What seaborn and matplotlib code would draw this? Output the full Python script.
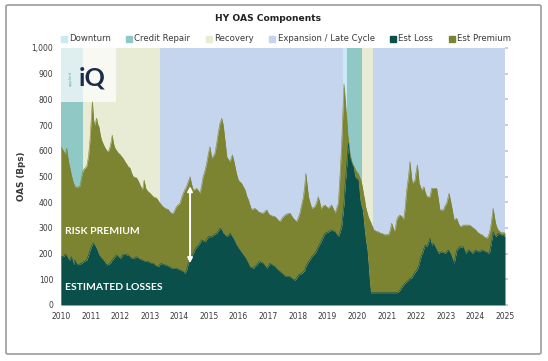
import matplotlib
matplotlib.use("Agg")
import numpy as np
import pandas as pd
import matplotlib.pyplot as plt
import seaborn as sns
from matplotlib.patches import FancyBboxPatch, Rectangle
from matplotlib.lines import Line2D

# ---------------- data ----------------
years = [
    2010.00, 2010.08, 2010.15, 2010.19, 2010.25, 2010.30, 2010.36, 2010.42, 2010.47, 2010.55,
    2010.64, 2010.70, 2010.75, 2010.87, 2010.93, 2010.98, 2011.03, 2011.06, 2011.10, 2011.14,
    2011.20, 2011.25, 2011.28, 2011.33, 2011.37, 2011.43, 2011.49, 2011.55, 2011.60, 2011.66,
    2011.70, 2011.73, 2011.77, 2011.82, 2011.88, 2011.94, 2012.00, 2012.05, 2012.10, 2012.16,
    2012.22, 2012.27, 2012.33, 2012.38, 2012.44, 2012.50, 2012.56, 2012.62, 2012.67, 2012.75,
    2012.81, 2012.86, 2012.90, 2012.95, 2013.00, 2013.06, 2013.12, 2013.18, 2013.23, 2013.29,
    2013.34, 2013.40, 2013.45, 2013.51, 2013.57, 2013.62, 2013.68, 2013.74, 2013.79, 2013.85,
    2013.90, 2014.02, 2014.07, 2014.13, 2014.18, 2014.24, 2014.30, 2014.36, 2014.41, 2014.47,
    2014.53, 2014.58, 2014.64, 2014.70, 2014.75, 2014.80, 2014.87, 2014.92, 2014.98, 2015.03,
    2015.09, 2015.15, 2015.20, 2015.26, 2015.31, 2015.37, 2015.43, 2015.48, 2015.54, 2015.60,
    2015.66, 2015.71, 2015.76, 2015.79, 2015.84, 2015.88, 2015.93, 2015.99, 2016.04, 2016.10,
    2016.16, 2016.22, 2016.27, 2016.33, 2016.38, 2016.44, 2016.50, 2016.55, 2016.61, 2016.67,
    2016.72, 2016.78, 2016.83, 2016.90, 2016.95, 2017.00, 2017.06, 2017.15, 2017.23, 2017.30,
    2017.40, 2017.48, 2017.57, 2017.65, 2017.74, 2017.80, 2017.85, 2017.91, 2017.96, 2018.02,
    2018.07, 2018.13, 2018.19, 2018.24, 2018.27, 2018.32, 2018.36, 2018.42, 2018.47, 2018.53,
    2018.58, 2018.64, 2018.69, 2018.75, 2018.78, 2018.81, 2018.86, 2018.92, 2018.97, 2019.03,
    2019.08, 2019.14, 2019.20, 2019.26, 2019.31, 2019.37, 2019.43, 2019.48, 2019.52, 2019.56,
    2019.60, 2019.65, 2019.69, 2019.71, 2019.76, 2019.82, 2019.87, 2019.93, 2019.98, 2020.04,
    2020.10, 2020.13, 2020.18, 2020.22, 2020.25, 2020.29, 2020.34, 2020.38, 2020.41, 2020.45,
    2020.47, 2020.50, 2020.57, 2020.61, 2020.67, 2020.72, 2020.78, 2020.83, 2020.89, 2020.95,
    2021.00, 2021.06, 2021.12, 2021.17, 2021.22, 2021.26, 2021.30, 2021.34, 2021.39, 2021.45,
    2021.51, 2021.57, 2021.62, 2021.68, 2021.74, 2021.79, 2021.83, 2021.87, 2021.92, 2021.96,
    2022.00, 2022.04, 2022.10, 2022.13, 2022.18, 2022.22, 2022.26, 2022.30, 2022.36, 2022.42,
    2022.47, 2022.52, 2022.58, 2022.64, 2022.69, 2022.75, 2022.80, 2022.86, 2022.92, 2022.97,
    2023.03, 2023.09, 2023.11, 2023.16, 2023.20, 2023.24, 2023.28, 2023.33, 2023.37, 2023.42,
    2023.48, 2023.55, 2023.59, 2023.67, 2023.73, 2023.79, 2023.84, 2023.90, 2023.95, 2024.01,
    2024.06, 2024.12, 2024.18, 2024.24, 2024.29, 2024.35, 2024.40, 2024.47, 2024.51, 2024.55,
    2024.60, 2024.64, 2024.68, 2024.73, 2024.77, 2024.83, 2024.89, 2024.95, 2025.00,
]

hy_oas = [
    615, 600, 585, 610, 560, 533, 500, 475, 460, 458,
    462, 500, 525, 540, 580, 642, 740, 795, 720, 700,
    727, 700, 694, 660, 642, 625, 611, 600, 597, 616,
    640, 661, 630, 611, 600, 591, 585, 577, 570, 558,
    548, 538, 533, 515, 499, 497, 494, 480, 467, 447,
    486, 455, 447, 440, 436, 428, 421, 418, 416, 405,
    397, 388, 382, 377, 374, 372, 362, 357, 357, 370,
    383, 396, 415, 435, 448, 460, 480, 499, 470, 447,
    450, 454, 445, 435, 465, 499, 525, 551, 590, 616,
    571, 580, 590, 630, 668, 707, 726, 700, 640, 577,
    565, 558, 575, 584, 560, 538, 510, 486, 480, 473,
    460, 447, 425, 409, 390, 370, 374, 376, 370, 363,
    360, 358, 357, 365, 370, 358, 350, 346, 344, 335,
    324, 340, 350, 355, 357, 345, 337, 330, 324, 340,
    357, 390, 421, 470, 512, 460, 421, 395, 376, 380,
    383, 400, 421, 395, 370, 380, 385, 389, 382, 376,
    382, 389, 375, 357, 375, 396, 512, 620, 740, 860,
    800, 730, 660, 645, 590, 560, 545, 532, 520, 512,
    495, 486, 460, 430, 415, 383, 360, 344, 335, 325,
    320, 311, 292, 290, 285, 285, 280, 279, 276, 272,
    275, 272, 290, 318, 300, 285, 300, 330, 344, 350,
    345, 331, 370, 447, 500, 558, 510, 473, 480, 486,
    520, 545, 473, 465, 447, 452, 460, 440, 421, 421,
    421, 454, 454, 454, 454, 410, 370, 370, 370, 385,
    396, 425, 435, 405, 383, 355, 331, 335, 337, 320,
    305, 308, 311, 311, 311, 311, 308, 302, 298, 292,
    285, 279, 275, 272, 266, 262, 260, 279, 300, 331,
    376, 345, 318, 300, 292, 285, 280, 282, 280,
]

est_loss = [
    190, 188, 198, 192, 178, 175, 188, 156, 175, 156,
    160, 162, 168, 175, 195, 214, 228, 237, 240, 232,
    220, 205, 195, 188, 182, 175, 165, 156, 158, 162,
    170, 175, 181, 188, 195, 188, 181, 190, 198, 198,
    195, 195, 188, 183, 181, 185, 188, 182, 178, 175,
    172, 170, 169, 169, 166, 162, 162, 155, 152, 149,
    158, 162, 158, 156, 155, 150, 148, 143, 143, 143,
    143, 136, 134, 130, 123, 135, 162, 175, 190, 201,
    218, 225, 233, 243, 253, 250, 246, 255, 266, 266,
    266, 272, 276, 279, 288, 298, 292, 279, 272, 266,
    272, 279, 270, 265, 255, 245, 233, 222, 214, 205,
    195, 185, 175, 162, 149, 146, 143, 150, 156, 165,
    169, 165, 162, 152, 143, 152, 162, 155, 149, 140,
    130, 122, 112, 112, 110, 104, 100, 97, 105, 117,
    120, 123, 130, 136, 150, 160, 169, 178, 188, 195,
    201, 214, 227, 240, 245, 253, 266, 279, 282, 285,
    288, 292, 288, 285, 275, 266, 285, 305, 350, 396,
    470, 538, 600, 630, 575, 551, 538, 499, 492, 486,
    409, 390, 370, 330, 292, 253, 215, 160, 110, 60,
    48, 48, 48, 48, 48, 48, 48, 48, 48, 48,
    48, 48, 48, 48, 48, 48, 48, 48, 50, 58,
    68, 78, 85, 91, 97, 104, 105, 110, 120, 128,
    132, 140, 160, 175, 195, 205, 220, 233, 227, 245,
    259, 233, 240, 227, 215, 201, 205, 207, 204, 201,
    208, 214, 210, 200, 188, 175, 162, 190, 214, 220,
    227, 225, 227, 201, 210, 214, 207, 201, 208, 214,
    210, 207, 211, 214, 210, 207, 204, 201, 225, 253,
    285, 275, 266, 272, 279, 275, 272, 270, 266,
]

regime_labels = ["Downturn", "Credit Repair", "Recovery", "Expansion / Late Cycle"]
span_regime = ["Credit Repair", "Recovery", "Expansion / Late Cycle", "Downturn",
               "Credit Repair", "Recovery", "Expansion / Late Cycle"]
span_start = [2010.00, 2010.74, 2013.36, 2019.54, 2019.66, 2020.17, 2020.54]
span_end = [2010.74, 2013.36, 2019.54, 2019.66, 2020.17, 2020.54, 2025.00]

year_ticks = list(range(2010, 2026))
oas_ticks = list(range(0, 1001, 100))

# ---------------- styling ----------------
regime_colors = {
    "Downturn": "#c9e9f4",
    "Credit Repair": "#90c8c6",
    "Recovery": "#e9ecd5",
    "Expansion / Late Cycle": "#c5d5ed",
}
loss_color = "#0b4f4a"
prem_color = "#7c8432"
text_color = "#3a3a3a"

sns.set_theme(style="white")
plt.rcParams["font.family"] = ["DejaVu Sans"]

df = pd.DataFrame({"year": years, "oas": hy_oas, "loss": est_loss})
df["premium"] = df["oas"] - df["loss"]

fig = plt.figure(figsize=(5.48, 3.61), dpi=100)
fig.patch.set_facecolor("white")
ax = fig.add_axes([61 / 548, 56 / 361, 444 / 548, 257 / 361])

for name, s, e in zip(span_regime, span_start, span_end):
    ax.axvspan(s, e, color=regime_colors[name], lw=0, zorder=0)

ax.stackplot(df["year"], df["loss"], df["premium"],
             colors=[loss_color, prem_color], lw=0, zorder=2)
sns.lineplot(data=df, x="year", y="oas", color=prem_color, lw=0.4, ax=ax, zorder=3)
sns.lineplot(data=df, x="year", y="loss", color=loss_color, lw=0.4, ax=ax, zorder=3)

ax.set_xlim(2010, 2025)
ax.set_ylim(0, 1000)
ax.set_xticks(year_ticks)
ax.set_xticklabels([str(y) for y in year_ticks])
ax.set_yticks(oas_ticks)
ax.set_yticklabels([f"{v:,}" for v in oas_ticks])
ax.tick_params(axis="x", labelsize=5.5, colors=text_color, length=0, pad=5)
ax.tick_params(axis="y", labelsize=5.5, colors=text_color, length=0, pad=3)
ax.tick_params(axis="y", right=True, length=2.5, color="#c8c8c8", labelright=False)
for sp in ax.spines.values():
    sp.set_visible(False)
ax.set_xlabel("")
ax.set_ylabel("OAS (Bps)", fontsize=6.3, fontweight="bold", color=text_color, labelpad=4)

# annotations
ax.text(2010.12, 285, "RISK PREMIUM", color="white", fontsize=7.5, fontweight="bold",
        family=["Lato", "DejaVu Sans"], va="center", ha="left", zorder=5)
ax.text(2010.12, 70, "ESTIMATED LOSSES", color="white", fontsize=7.5, fontweight="bold",
        family=["Lato", "DejaVu Sans"], va="center", ha="left", zorder=5)
ax.annotate("", xy=(2014.36, 462), xytext=(2014.36, 163),
            arrowprops=dict(arrowstyle="<|-|>", color="white", lw=1.4,
                            mutation_scale=7, shrinkA=0, shrinkB=0), zorder=5)

# logo box
ax.add_patch(Rectangle((2010.0, 790), 1.85, 210, facecolor="white", alpha=0.72,
                       lw=0, zorder=4))
ax.text(2011.05, 885, "iQ", color="#1c2b48", fontsize=18, fontweight="bold",
        ha="center", va="center", family=["Lato", "DejaVu Sans"], zorder=5)
ax.text(2010.33, 880, "applied", color="#5fb0c0", fontsize=3.0, rotation=90,
        ha="center", va="center", zorder=5)

# title & legend
fig.text(0.489, 0.950, "HY OAS Components", ha="center", va="center",
         fontsize=6.6, fontweight="bold", color="#222222")
handles = [Line2D([], [], marker="s", ls="", color=regime_colors[n], markersize=4.2)
           for n in regime_labels]
handles += [Line2D([], [], marker="s", ls="", color=loss_color, markersize=4.2),
            Line2D([], [], marker="s", ls="", color=prem_color, markersize=4.2)]
labels = regime_labels + ["Est Loss", "Est Premium"]
fig.legend(handles, labels, loc="center", bbox_to_anchor=(0.522, 0.892), ncol=6,
           frameon=False, fontsize=6.1, handlelength=0.6, handletextpad=0.3,
           columnspacing=1.9, labelcolor=text_color)

# outer border
fig.patches.append(FancyBboxPatch((6 / 548, 7 / 361), 535 / 548, 349 / 361,
                                  boxstyle="round,pad=0,rounding_size=0.004",
                                  transform=fig.transFigure, fill=False,
                                  edgecolor="#9c9c9c", lw=1.2))

fig.savefig("out.png", dpi=100)
